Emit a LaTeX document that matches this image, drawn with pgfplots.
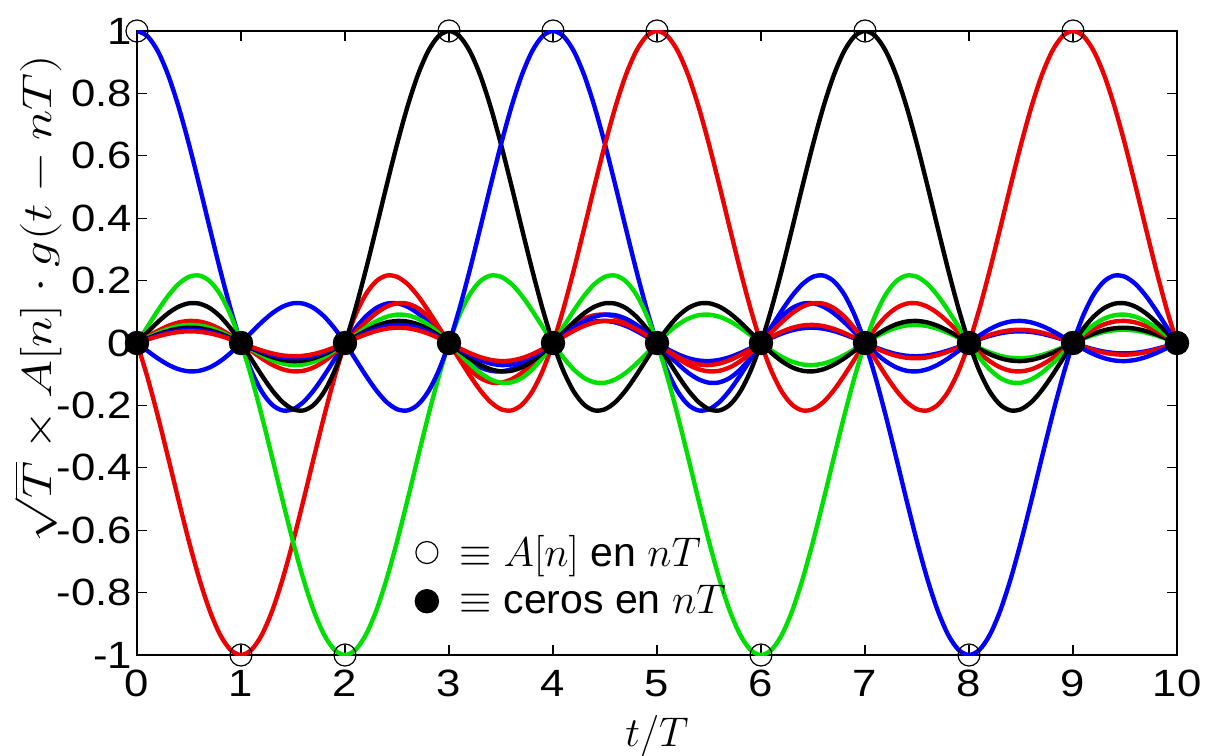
\documentclass[border=0pt]{standalone}
\usepackage{fontspec}
\setmainfont{Liberation Sans}
\usepackage{graphicx}
\usepackage{pgfplots}
\usepackage{pgfplotstable}
\usetikzlibrary{calc}
\pgfplotsset{compat=1.18}

\definecolor{mblue}{rgb}{0,0,1}
\definecolor{mred}{rgb}{0.93,0,0}
\definecolor{mgreen}{rgb}{0,0.88,0}

\newcommand{\tl}[1]{\scalebox{1.15}[1]{#1}}

% sinc pulse g(u) sampled every 0.1
\pgfplotstableread{
u g
-10.0 0
-9.9 -0.0099
-9.8 -0.0191
-9.7 -0.0266
-9.6 -0.0315
-9.5 -0.0335
-9.4 -0.0322
-9.3 -0.0277
-9.2 -0.0203
-9.1 -0.0108
-9.0 0
-8.9 0.0111
-8.8 0.0213
-8.7 0.0296
-8.6 0.0352
-8.5 0.0375
-8.4 0.0360
-8.3 0.0310
-8.2 0.0228
-8.1 0.0121
-8.0 0
-7.9 -0.0125
-7.8 -0.0240
-7.7 -0.0334
-7.6 -0.0398
-7.5 -0.0424
-7.4 -0.0409
-7.3 -0.0353
-7.2 -0.0260
-7.1 -0.0139
-7.0 0
-6.9 0.0143
-6.8 0.0275
-6.7 0.0384
-6.6 0.0459
-6.5 0.0490
-6.4 0.0473
-6.3 0.0409
-6.2 0.0302
-6.1 0.0161
-6.0 0
-5.9 -0.0167
-5.8 -0.0323
-5.7 -0.0452
-5.6 -0.0541
-5.5 -0.0579
-5.4 -0.0561
-5.3 -0.0486
-5.2 -0.0360
-5.1 -0.0193
-5.0 0
-4.9 0.0201
-4.8 0.0390
-4.7 0.0548
-4.6 0.0658
-4.5 0.0707
-4.4 0.0688
-4.3 0.0599
-4.2 0.0445
-4.1 0.0240
-4.0 0
-3.9 -0.0252
-3.8 -0.0492
-3.7 -0.0696
-3.6 -0.0841
-3.5 -0.0909
-3.4 -0.0890
-3.3 -0.0780
-3.2 -0.0585
-3.1 -0.0317
-3.0 0
-2.9 0.0339
-2.8 0.0668
-2.7 0.0954
-2.6 0.1164
-2.5 0.1273
-2.4 0.1261
-2.3 0.1120
-2.2 0.0850
-2.1 0.0468
-2.0 0
-1.9 -0.0518
-1.8 -0.1039
-1.7 -0.1515
-1.6 -0.1892
-1.5 -0.2122
-1.4 -0.2162
-1.3 -0.1981
-1.2 -0.1559
-1.1 -0.0894
-1.0 0
-0.9 0.1093
-0.8 0.2339
-0.7 0.3679
-0.6 0.5046
-0.5 0.6366
-0.4 0.7568
-0.3 0.8584
-0.2 0.9355
-0.1 0.9836
0.0 1.0000
0.1 0.9836
0.2 0.9355
0.3 0.8584
0.4 0.7568
0.5 0.6366
0.6 0.5046
0.7 0.3679
0.8 0.2339
0.9 0.1093
1.0 0
1.1 -0.0894
1.2 -0.1559
1.3 -0.1981
1.4 -0.2162
1.5 -0.2122
1.6 -0.1892
1.7 -0.1515
1.8 -0.1039
1.9 -0.0518
2.0 0
2.1 0.0468
2.2 0.0850
2.3 0.1120
2.4 0.1261
2.5 0.1273
2.6 0.1164
2.7 0.0954
2.8 0.0668
2.9 0.0339
3.0 0
3.1 -0.0317
3.2 -0.0585
3.3 -0.0780
3.4 -0.0890
3.5 -0.0909
3.6 -0.0841
3.7 -0.0696
3.8 -0.0492
3.9 -0.0252
4.0 0
4.1 0.0240
4.2 0.0445
4.3 0.0599
4.4 0.0688
4.5 0.0707
4.6 0.0658
4.7 0.0548
4.8 0.0390
4.9 0.0201
5.0 0
5.1 -0.0193
5.2 -0.0360
5.3 -0.0486
5.4 -0.0561
5.5 -0.0579
5.6 -0.0541
5.7 -0.0452
5.8 -0.0323
5.9 -0.0167
6.0 0
6.1 0.0161
6.2 0.0302
6.3 0.0409
6.4 0.0473
6.5 0.0490
6.6 0.0459
6.7 0.0384
6.8 0.0275
6.9 0.0143
7.0 0
7.1 -0.0139
7.2 -0.0260
7.3 -0.0353
7.4 -0.0409
7.5 -0.0424
7.6 -0.0398
7.7 -0.0334
7.8 -0.0240
7.9 -0.0125
8.0 0
8.1 0.0121
8.2 0.0228
8.3 0.0310
8.4 0.0360
8.5 0.0375
8.6 0.0352
8.7 0.0296
8.8 0.0213
8.9 0.0111
9.0 0
9.1 -0.0108
9.2 -0.0203
9.3 -0.0277
9.4 -0.0322
9.5 -0.0335
9.6 -0.0315
9.7 -0.0266
9.8 -0.0191
9.9 -0.0099
10.0 0
}\sinctab

\begin{document}
\begin{tikzpicture}
  \begin{axis}[
      name=ax,
      scale only axis,
      width=520pt, height=312pt,
      xmin=0, xmax=10, ymin=-1, ymax=1,
      xtick={0,1,2,3,4,5,6,7,8,9,10},
      xticklabels={\tl{0},\tl{1},\tl{2},\tl{3},\tl{4},\tl{5},\tl{6},\tl{7},\tl{8},\tl{9},\tl{10}},
      ytick={-1,-0.8,-0.6,-0.4,-0.2,0,0.2,0.4,0.6,0.8,1},
      yticklabels={\tl{-1},\tl{-0.8},\tl{-0.6},\tl{-0.4},\tl{-0.2},\tl{0},\tl{0.2},\tl{0.4},\tl{0.6},\tl{0.8},\tl{1}},
      tick label style={font=\fontsize{19}{23}\selectfont},
      xticklabel style={yshift=-4pt},
      yticklabel style={xshift=1pt},
      major tick length=5pt,
      axis line style={line width=0.6pt},
      every tick/.style={line width=0.6pt, black},
      xlabel={$t/T$},
      xlabel style={font=\fontsize{21}{25}\selectfont, at={(rel axis cs:0.5,-0.13)}, anchor=center},
      ylabel={\scalebox{1.25}[1]{$\sqrt{T}\times A[n]\cdot g(t-nT)$}},
      ylabel style={font=\fontsize{20}{24}\selectfont, inner sep=0pt, at={(rel axis cs:-0.095,0.571)}, anchor=center},
      legend style={draw=none, fill=none, at={(rel axis cs:0.262,0.205)}, anchor=north west,
                    font=\fontsize{20.5}{24}\selectfont, row sep=4pt, legend cell align=left},
      every axis plot/.append style={line width=2.2pt},
    ]
    % pulses A[n] g(t-nT), n = 0..9
    \addplot[mblue, smooth, forget plot, restrict x to domain=-0.001:10.001]
      table[x expr=\thisrow{u}+0, y expr=\thisrow{g}] {\sinctab};
    \addplot[mred, smooth, forget plot, restrict x to domain=-0.001:10.001]
      table[x expr=\thisrow{u}+1, y expr=-\thisrow{g}] {\sinctab};
    \addplot[mgreen, smooth, forget plot, restrict x to domain=-0.001:10.001]
      table[x expr=\thisrow{u}+2, y expr=-\thisrow{g}] {\sinctab};
    \addplot[black, smooth, forget plot, restrict x to domain=-0.001:10.001]
      table[x expr=\thisrow{u}+3, y expr=\thisrow{g}] {\sinctab};
    \addplot[mblue, smooth, forget plot, restrict x to domain=-0.001:10.001]
      table[x expr=\thisrow{u}+4, y expr=\thisrow{g}] {\sinctab};
    \addplot[mred, smooth, forget plot, restrict x to domain=-0.001:10.001]
      table[x expr=\thisrow{u}+5, y expr=\thisrow{g}] {\sinctab};
    \addplot[mgreen, smooth, forget plot, restrict x to domain=-0.001:10.001]
      table[x expr=\thisrow{u}+6, y expr=-\thisrow{g}] {\sinctab};
    \addplot[black, smooth, forget plot, restrict x to domain=-0.001:10.001]
      table[x expr=\thisrow{u}+7, y expr=\thisrow{g}] {\sinctab};
    \addplot[mblue, smooth, forget plot, restrict x to domain=-0.001:10.001]
      table[x expr=\thisrow{u}+8, y expr=-\thisrow{g}] {\sinctab};
    \addplot[mred, smooth, forget plot, restrict x to domain=-0.001:10.001]
      table[x expr=\thisrow{u}+9, y expr=\thisrow{g}] {\sinctab};

    % samples
    \addplot[only marks, mark=o, mark size=5.5pt, mark options={line width=0.6pt, black}, black, clip marker paths=false]
      coordinates {(0,1)(1,-1)(2,-1)(3,1)(4,1)(5,1)(6,-1)(7,1)(8,-1)(9,1)};
    \addlegendentry{\hspace{9pt}$\equiv A[n]$ en $nT$}
    \addplot[only marks, mark=*, mark size=5pt, black]
      coordinates {(0,0)(1,0)(2,0)(3,0)(4,0)(5,0)(6,0)(7,0)(8,0)(9,0)(10,0)};
    \addlegendentry{\hspace{9pt}$\equiv$ ceros en $nT$}
  \end{axis}
  \pgfresetboundingbox
  \path (ax.south west) ++(-68.5pt,-50pt) rectangle ($(ax.north east)+(15.5pt,15.5pt)$);
\end{tikzpicture}
\end{document}
